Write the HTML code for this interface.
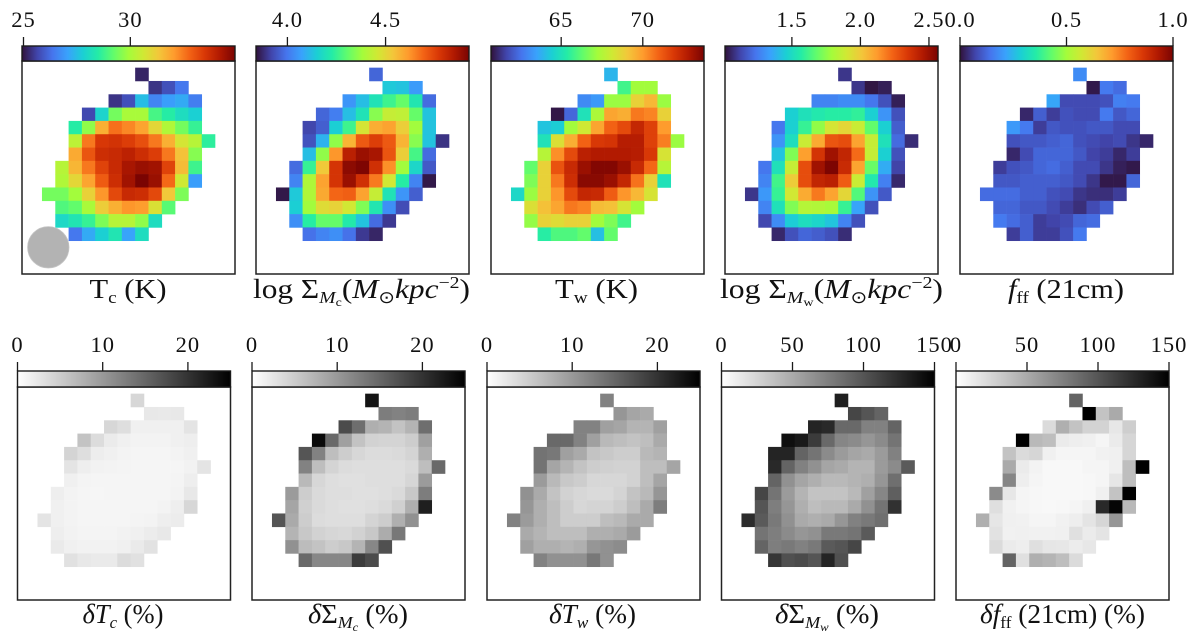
<!DOCTYPE html>
<html lang="en">
<head>
<meta charset="utf-8">
<title>Galaxy parameter maps</title>
<style>
html,body{margin:0;padding:0;background:#fff;}
svg{display:block;}
text{font-family:"Liberation Serif",serif;fill:#111;}
.tick{font-size:22.5px;letter-spacing:1px;text-anchor:middle;}
.lab{font-size:27px;}
.it{font-style:italic;}
.sub{font-size:17px;}
</style>
</head>
<body>
<svg id="figure" width="1200" height="643" viewBox="0 0 1200 643" xmlns="http://www.w3.org/2000/svg">
<defs id="gradients"></defs>
<g id="panels"></g>
<g id="labels">
<text class="lab" x="89.5" y="298" textLength="77" lengthAdjust="spacingAndGlyphs">T<tspan class="sub" dy="5">c</tspan><tspan dy="-5"> (K)</tspan></text>
<text class="lab" x="253" y="298" textLength="217" lengthAdjust="spacingAndGlyphs">log Σ<tspan class="sub it" dy="5">M</tspan><tspan class="sub" style="font-size:12px" dy="3">c</tspan><tspan dy="-8">(</tspan><tspan class="it">M</tspan><tspan class="sub" dy="5">⊙</tspan><tspan class="it" dy="-5">kpc</tspan><tspan class="sub" dy="-10">−2</tspan><tspan dy="10">)</tspan></text>
<text class="lab" x="555" y="298" textLength="83" lengthAdjust="spacingAndGlyphs">T<tspan class="sub" dy="5">w</tspan><tspan dy="-5"> (K)</tspan></text>
<text class="lab" x="720" y="298" textLength="223" lengthAdjust="spacingAndGlyphs">log Σ<tspan class="sub it" dy="5">M</tspan><tspan class="sub" style="font-size:12px" dy="3">w</tspan><tspan dy="-8">(</tspan><tspan class="it">M</tspan><tspan class="sub" dy="5">⊙</tspan><tspan class="it" dy="-5">kpc</tspan><tspan class="sub" dy="-10">−2</tspan><tspan dy="10">)</tspan></text>
<text class="lab" x="1008" y="298" textLength="116" lengthAdjust="spacingAndGlyphs"><tspan class="it">f</tspan><tspan class="sub" dy="5">ff</tspan><tspan dy="-5"> (21cm)</tspan></text>
<text class="lab" x="82.5" y="623" textLength="81" lengthAdjust="spacingAndGlyphs"><tspan class="it">δT</tspan><tspan class="sub it" dy="5">c</tspan><tspan dy="-5"> (%)</tspan></text>
<text class="lab" x="308" y="623" textLength="100" lengthAdjust="spacingAndGlyphs"><tspan class="it">δ</tspan>Σ<tspan class="sub it" dy="5">M</tspan><tspan class="sub it" style="font-size:12px" dy="3">c</tspan><tspan dy="-8"> (%)</tspan></text>
<text class="lab" x="549" y="623" textLength="87" lengthAdjust="spacingAndGlyphs"><tspan class="it">δT</tspan><tspan class="sub it" dy="5">w</tspan><tspan dy="-5"> (%)</tspan></text>
<text class="lab" x="775" y="623" textLength="104" lengthAdjust="spacingAndGlyphs"><tspan class="it">δ</tspan>Σ<tspan class="sub it" dy="5">M</tspan><tspan class="sub it" style="font-size:12px" dy="3">w</tspan><tspan dy="-8"> (%)</tspan></text>
<text class="lab" x="980" y="623" textLength="165" lengthAdjust="spacingAndGlyphs"><tspan class="it">δf</tspan><tspan class="sub" dy="5">ff</tspan><tspan dy="-5"> (21cm) (%)</tspan></text>
</g>
</svg>
<script>
// First map column occupied in each image row (pixel indices of the shared source mask).
const rowStartColumn = [8, 9, 6, 4, 3, 3, 3, 2, 2, 1, 2, 2, 3];

const tcValues = [
[25.2],
[25.4,25.8,26.4],
[25.4,25.8,27.5,26.6,27.0,27.2,26.5],
[25.7,27.9,29.4,30.0,30.0,28.9,28.5,28.1,27.8],
[28.5,29.7,31.7,32.6,32.3,31.9,31.0,30.1,29.4,28.7],
[30.3,32.5,33.5,33.6,33.4,33.1,32.5,31.7,30.7,30.2,28.6],
[31.8,33.0,33.7,33.8,34.0,33.7,33.4,32.5,31.4,29.6],
[30.2,31.6,32.5,33.3,33.8,34.3,34.5,34.4,33.3,31.5,28.8],
[30.1,31.0,31.9,32.9,33.7,34.4,35.0,34.5,32.7,30.6,27.0],
[29.4,29.4,29.9,31.1,32.1,33.2,33.8,33.7,33.2,31.3,29.5],
[29.0,29.2,30.0,31.2,31.7,32.1,32.0,30.8,29.1],
[28.0,28.3,28.7,29.5,30.2,30.2,29.7,28.1],
[26.4,27.2,27.8,28.3,27.1,28.1]
];
const sigmaMcValues = [
[3.97],
[4.14,4.13,4.06],
[4.05,4.12,4.20,4.26,4.31,4.21,3.98],
[3.97,4.01,4.12,4.20,4.35,4.44,4.43,4.31,4.13],
[3.92,3.96,4.15,4.26,4.47,4.58,4.60,4.52,4.38,4.13],
[3.94,4.10,4.36,4.57,4.71,4.76,4.71,4.57,4.35,4.13,3.89],
[4.12,4.36,4.62,4.83,4.88,4.86,4.72,4.52,4.27,3.98],
[3.98,4.25,4.53,4.78,4.90,4.92,4.79,4.63,4.38,4.17,3.95],
[4.02,4.40,4.60,4.78,4.88,4.79,4.66,4.46,4.23,4.02,3.85],
[3.85,4.14,4.40,4.59,4.69,4.70,4.60,4.44,4.20,4.05,3.96],
[4.15,4.38,4.49,4.51,4.46,4.34,4.21,4.04,3.93],
[4.04,4.23,4.31,4.31,4.22,4.13,3.98,3.90],
[3.99,4.02,4.04,3.99,3.90,3.87]
];
const twValues = [
[63.9],
[65.8,67.2,67.2],
[63.0,63.3,67.1,67.1,68.8,69.4,67.1],
[60.8,62.3,65.0,67.4,69.8,69.6,70.6,70.4,68.8],
[64.2,64.4,67.2,68.1,69.8,71.0,71.5,72.4,71.7,70.0],
[65.0,68.4,69.6,71.0,71.9,72.0,72.7,72.7,71.7,70.5,67.1],
[67.6,70.2,71.5,72.6,72.8,72.8,72.8,72.7,71.9,68.3],
[66.3,68.8,71.3,72.3,73.2,73.6,73.6,73.2,72.3,70.9,67.6],
[66.7,68.8,70.6,72.2,73.5,73.5,73.2,72.4,70.7,68.8,65.0],
[64.7,67.1,68.8,70.1,71.5,72.4,72.3,71.1,70.1,69.4,68.3],
[68.4,69.2,69.8,70.6,70.4,69.3,69.2,68.3,67.2],
[67.0,68.8,68.5,68.8,68.8,67.2,66.7,65.8],
[65.4,66.0,66.0,66.3,64.1,66.3]
];
const sigmaMwValues = [
[1.09],
[1.09,1.02,1.04],
[1.27,1.27,1.29,1.29,1.24,1.15,1.04],
[1.46,1.52,1.55,1.57,1.57,1.59,1.46,1.31,1.15],
[1.24,1.46,1.60,1.76,1.91,1.96,1.88,1.68,1.46,1.18],
[1.31,1.51,1.88,2.08,2.27,2.29,2.10,1.87,1.52,1.21,1.07],
[1.43,1.73,2.11,2.36,2.49,2.41,2.22,1.87,1.46,1.15],
[1.24,1.52,1.87,2.29,2.49,2.56,2.39,2.10,1.69,1.37,1.12],
[1.27,1.62,1.99,2.29,2.41,2.43,2.25,1.88,1.55,1.26,1.06],
[1.09,1.32,1.60,1.90,2.08,2.19,2.10,1.96,1.65,1.31,1.17],
[1.27,1.52,1.73,1.83,1.82,1.80,1.60,1.35,1.15],
[1.13,1.29,1.45,1.51,1.48,1.43,1.27,1.15],
[1.06,1.15,1.20,1.18,1.15,1.07]
];
const fffValues = [
[0.18],
[0.01,0.15,0.13],
[0.22,0.08,0.08,0.08,0.09,0.16,0.15],
[0.03,0.11,0.06,0.09,0.08,0.08,0.15,0.10,0.12],
[0.20,0.15,0.06,0.10,0.09,0.09,0.10,0.10,0.08,0.08],
[0.09,0.10,0.10,0.11,0.12,0.09,0.08,0.07,0.08,0.05,0.03],
[0.03,0.08,0.12,0.12,0.12,0.10,0.07,0.06,0.03,0.06],
[0.06,0.09,0.10,0.12,0.13,0.11,0.08,0.08,0.05,0.02,0.01],
[0.10,0.10,0.11,0.11,0.11,0.10,0.08,0.05,0.01,0.01,0.12],
[0.13,0.13,0.13,0.11,0.11,0.09,0.08,0.05,0.04,0.04,0.06],
[0.12,0.12,0.10,0.10,0.08,0.06,0.04,0.08,0.11],
[0.15,0.13,0.11,0.06,0.07,0.08,0.12,0.13],
[0.06,0.11,0.06,0.06,0.09,0.15]
];
const deltaTcValues = [
[3.9],
[2.3,2.2,2.3],
[3.9,3.2,1.5,1.5,1.5,1.5,2.6],
[5.9,3.4,2.0,1.5,1.2,1.2,1.2,1.5,1.7],
[4.2,3.2,1.8,1.5,1.2,1.0,1.0,1.0,1.2,1.5],
[2.6,1.7,1.3,1.2,1.1,1.0,1.0,1.0,1.0,1.3,2.6],
[1.5,1.1,1.0,1.0,1.0,1.0,1.0,1.0,1.1,1.7],
[1.7,1.2,1.0,0.9,1.0,1.0,1.0,1.0,1.0,1.2,2.3],
[1.5,1.2,1.0,1.0,1.0,1.0,1.0,1.0,1.2,1.7,3.9],
[2.6,1.5,1.2,1.0,1.0,1.0,1.0,1.1,1.2,1.7,1.9],
[1.7,1.3,1.1,1.1,1.1,1.3,1.5,1.9,2.3],
[2.1,1.5,1.3,1.3,1.3,1.5,2.1,2.8],
[2.9,2.3,2.1,2.1,3.4,2.9]
];
const deltaSigmaMcValues = [
[23.0],
[12.7,12.3,12.7],
[17.6,14.2,7.8,7.4,5.9,7.4,14.2],
[24.0,14.7,9.3,5.9,4.4,4.2,4.2,4.9,9.3],
[16.7,12.3,6.4,4.9,3.9,3.4,3.4,3.6,4.2,7.8],
[12.3,6.4,4.2,3.4,3.2,3.2,3.2,3.2,3.6,6.4,14.7],
[6.9,3.9,3.2,3.0,3.0,3.2,3.2,3.2,4.0,9.8],
[9.8,4.9,3.6,3.2,3.2,3.0,3.0,3.2,3.6,5.4,12.7],
[8.8,4.6,3.6,3.2,3.0,3.0,3.2,3.6,4.6,7.8,22.0],
[16.7,8.3,4.9,3.4,3.2,3.2,3.2,4.2,4.9,7.8,10.8],
[7.4,5.4,4.4,4.0,3.8,4.4,5.4,8.1,13.2],
[10.8,6.6,5.9,4.9,5.4,7.4,11.8,17.2],
[14.7,11.8,11.8,11.8,19.1,17.6]
];
const deltaTwValues = [
[12.3],
[10.3,8.8,8.3],
[12.3,12.3,9.3,8.8,7.4,7.4,9.3],
[14.7,14.7,12.3,9.3,6.9,6.4,5.9,6.4,8.3],
[13.7,13.2,9.3,8.3,5.9,5.4,4.9,4.9,6.9,7.4],
[13.7,8.8,7.4,5.9,4.9,4.6,4.4,4.4,6.4,6.4,8.8],
[9.8,6.9,5.4,4.9,3.9,3.9,3.9,4.4,6.4,8.8],
[10.8,8.3,5.9,4.4,3.9,3.6,3.6,4.2,5.9,6.9,10.3],
[10.3,7.8,6.4,4.9,3.9,4.2,4.2,4.9,6.4,8.3,12.7],
[12.3,9.8,7.8,6.4,4.9,4.9,4.9,6.4,6.9,8.3,8.3],
[8.3,7.4,6.4,6.4,6.4,7.8,7.8,8.3,9.8],
[9.3,7.8,7.8,7.4,7.8,10.3,10.8,11.3],
[12.3,10.8,10.8,10.8,13.2,10.8]
];
const deltaSigmaMwValues = [
[132],
[109,100,91],
[129,126,88,88,74,74,91],
[141,135,115,88,71,68,62,68,82],
[129,129,91,82,68,59,53,50,59,74],
[126,91,74,65,53,50,44,44,59,68,97],
[91,65,53,47,41,41,44,47,62,85],
[109,82,59,44,35,35,35,41,56,71,94],
[100,76,62,47,38,41,41,50,65,82,121],
[124,97,79,65,50,47,50,62,74,79,85],
[82,76,68,62,65,79,79,82,97],
[91,76,79,74,79,97,100,109],
[118,103,106,100,129,103]
];
const deltaFffValues = [
[91],
[150,35,50],
[21,47,35,26,26,14,29],
[150,41,38,12,10,9,6,12,24],
[35,21,24,9,6,6,6,8,9,24],
[50,12,7,4,4,4,6,6,9,38,150],
[71,10,6,4,4,4,5,6,15,38],
[68,14,6,5,4,4,4,5,9,35,150],
[19,8,6,5,4,5,6,9,126,147,41],
[47,15,9,8,6,6,8,10,16,24,62],
[17,8,9,8,8,9,18,12,16],
[21,12,10,19,15,14,11,14],
[91,18,47,44,38,21]
];

const tcTicks = [25, 30];
const sigmaMcTicks = [4.0, 4.5];
const twTicks = [65, 70];
const sigmaMwTicks = [1.5, 2.0, 2.5];
const fffTicks = [0, 0.5, 1];
const deltaTicks = [0, 10, 20];
const deltaWideTicks = [0, 50, 100, 150];

const tcTickLabels = ['25', '30'];
const sigmaMcTickLabels = ['4.0', '4.5'];
const twTickLabels = ['65', '70'];
const sigmaMwTickLabels = ['1.5', '2.0', '2.5'];
const fffTickLabels = ['0.0', '0.5', '1.0'];
const deltaTickLabels = ['0', '10', '20'];
const deltaWideTickLabels = ['0', '50', '100', '150'];

const turboStops = ['#30123b','#4145ab','#4675ed','#39a2fc','#1bcfd4','#24eca6','#61fc6c','#a4fc3b','#d1e834','#f3c63a','#fe9b2d','#f36315','#d93806','#b11901','#7a0402'];

const SVG_NS = 'http://www.w3.org/2000/svg';
const GRID_COLUMNS = 16;
const PANEL_W = 213;
const PANEL_H = 213;
const TOP_ROW = { barTop: 46, barBottom: 61, tickTop: 37, labelY: 27 };
const BOTTOM_ROW = { barTop: 371, barBottom: 387, tickTop: 362, labelY: 352 };

const panelSpecs = [
  { id: 'tc', left: 22, row: TOP_ROW, values: tcValues, domain: [24.93, 34.9], ticks: tcTicks, tickLabels: tcTickLabels, map: 'turbo' },
  { id: 'sigma-mc', left: 256, row: TOP_ROW, values: sigmaMcValues, domain: [3.84, 4.925], ticks: sigmaMcTicks, tickLabels: sigmaMcTickLabels, map: 'turbo' },
  { id: 'tw', left: 491, row: TOP_ROW, values: twValues, domain: [60.7, 73.75], ticks: twTicks, tickLabels: twTickLabels, map: 'turbo' },
  { id: 'sigma-mw', left: 725, row: TOP_ROW, values: sigmaMwValues, domain: [1.012, 2.566], ticks: sigmaMwTicks, tickLabels: sigmaMwTickLabels, map: 'turbo' },
  { id: 'fff', left: 960, row: TOP_ROW, values: fffValues, domain: [0, 1], ticks: fffTicks, tickLabels: fffTickLabels, map: 'turbo' },
  { id: 'delta-tc', left: 17.5, row: BOTTOM_ROW, values: deltaTcValues, domain: [0, 25], ticks: deltaTicks, tickLabels: deltaTickLabels, map: 'grey' },
  { id: 'delta-sigma-mc', left: 252, row: BOTTOM_ROW, values: deltaSigmaMcValues, domain: [0, 25], ticks: deltaTicks, tickLabels: deltaTickLabels, map: 'grey' },
  { id: 'delta-tw', left: 487, row: BOTTOM_ROW, values: deltaTwValues, domain: [0, 25], ticks: deltaTicks, tickLabels: deltaTickLabels, map: 'grey' },
  { id: 'delta-sigma-mw', left: 721.5, row: BOTTOM_ROW, values: deltaSigmaMwValues, domain: [0, 150], ticks: deltaWideTicks, tickLabels: deltaWideTickLabels, map: 'grey' },
  { id: 'delta-fff', left: 956, row: BOTTOM_ROW, values: deltaFffValues, domain: [0, 150], ticks: deltaWideTicks, tickLabels: deltaWideTickLabels, map: 'grey' }
];

function make(tag, attrs, parent) {
  const el = document.createElementNS(SVG_NS, tag);
  Object.keys(attrs).forEach(function (k) { el.setAttribute(k, attrs[k]); });
  if (parent) parent.appendChild(el);
  return el;
}
function hexRgb(h) {
  return [parseInt(h.slice(1, 3), 16), parseInt(h.slice(3, 5), 16), parseInt(h.slice(5, 7), 16)];
}
function turboColor(t) {
  const p = Math.max(0, Math.min(1, t)) * (turboStops.length - 1);
  const i = Math.min(Math.floor(p), turboStops.length - 2);
  const a = hexRgb(turboStops[i]);
  const b = hexRgb(turboStops[i + 1]);
  const f = p - i;
  return 'rgb(' + a.map(function (c, n) { return Math.round(c + (b[n] - c) * f); }).join(',') + ')';
}
function greyColor(t) {
  const l = Math.round(255 * (1 - Math.max(0, Math.min(1, t))));
  return 'rgb(' + l + ',' + l + ',' + l + ')';
}

const defs = document.getElementById('gradients');
const turboGrad = make('linearGradient', { id: 'grad-turbo', x1: 0, x2: 1, y1: 0, y2: 0 }, defs);
turboStops.forEach(function (c, i) {
  make('stop', { offset: i / (turboStops.length - 1), 'stop-color': c }, turboGrad);
});
const greyGrad = make('linearGradient', { id: 'grad-grey', x1: 0, x2: 1, y1: 0, y2: 0 }, defs);
make('stop', { offset: 0, 'stop-color': '#ffffff' }, greyGrad);
make('stop', { offset: 1, 'stop-color': '#000000' }, greyGrad);

const root = document.getElementById('panels');

panelSpecs.forEach(function (spec) {
  const top = spec.row.barBottom;
  const cellW = PANEL_W / GRID_COLUMNS;
  const cellH = PANEL_H / GRID_COLUMNS;
  const xCol = function (c) { return spec.left + (c + 0.5) * cellW; };
  const yRow = function (r) { return top + (r + 0.5) * cellH; };
  const norm = function (v) { return (v - spec.domain[0]) / (spec.domain[1] - spec.domain[0]); };
  const xTick = function (v) { return spec.left + norm(v) * PANEL_W; };
  const colorOf = spec.map === 'turbo' ? turboColor : greyColor;

  const group = make('g', {}, root);
  
  

  const heat = make('g', {}, group);
  
  

  spec.values.forEach(function (rowValues, r) {
    rowValues.forEach(function (v, i) {
      const cell = make('rect', {
        x: xCol(rowStartColumn[r] + i),
        y: yRow(r),
        width: cellW + 0.3,
        height: cellH + 0.3,
        fill: colorOf(norm(v))
      }, heat);
      
      
    });
  });

  const frame = make('rect', {
    x: spec.left, y: top, width: PANEL_W, height: PANEL_H,
    fill: 'none', stroke: '#222222', 'stroke-width': 1.5
  }, group);
  
  

  const bar = make('rect', {
    x: spec.left, y: spec.row.barTop, width: PANEL_W, height: spec.row.barBottom - spec.row.barTop,
    fill: 'url(#grad-' + spec.map + ')', stroke: '#1a1a1a', 'stroke-width': 1.4
  }, group);
  
  

  spec.ticks.forEach(function (v, i) {
    const mark = make('line', {
      x1: xTick(v), x2: xTick(v), y1: spec.row.tickTop, y2: spec.row.barTop,
      stroke: '#1a1a1a', 'stroke-width': 1.3
    }, group);
    
    
    const label = make('text', { x: xTick(v), y: spec.row.labelY, class: 'tick' }, group);
    
    
    label.textContent = spec.tickLabels[i];
  });
});

const beam = make('circle', { cx: 48.3, cy: 247.3, r: 20.7, fill: '#b3b3b3', stroke: '#c4c4c4', 'stroke-width': 0.8 }, root);


</script>
</body>
</html>
